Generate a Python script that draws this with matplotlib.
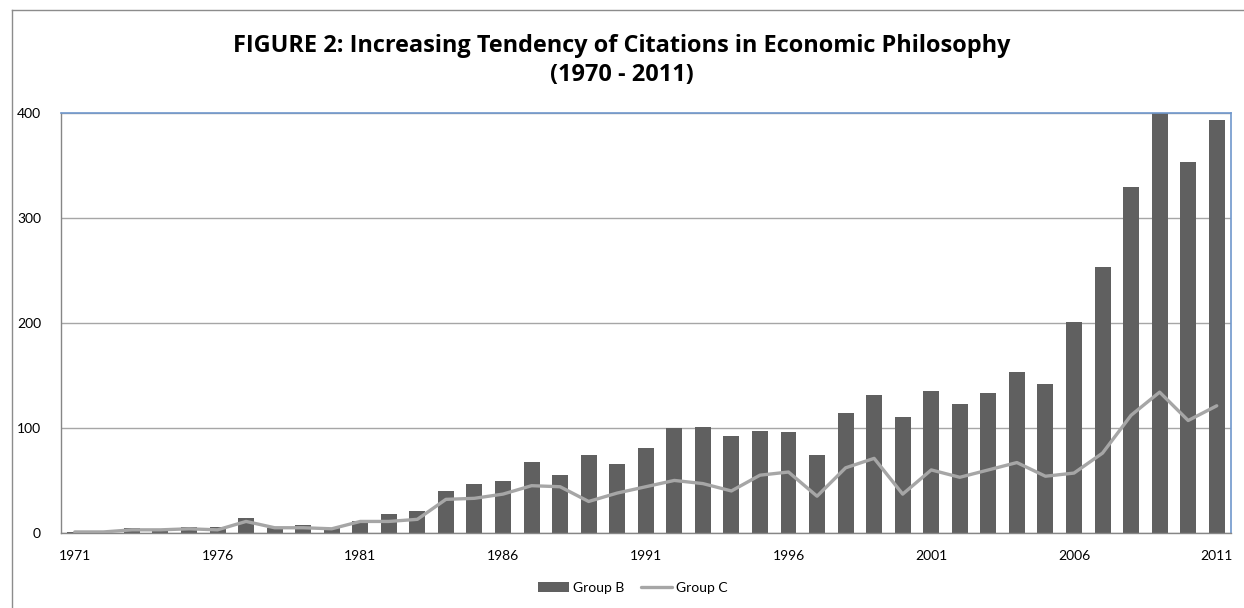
import matplotlib
matplotlib.use("Agg")
import matplotlib.pyplot as plt
from matplotlib.lines import Line2D
import numpy as np

years = list(range(1971, 2012))
group_b = [1, 2, 5, 3, 6, 6, 14, 5, 8, 5, 11, 18, 21, 40, 47, 49, 68, 55, 74, 66,
           81, 100, 101, 92, 97, 96, 74, 114, 131, 110, 135, 123, 133, 153, 142,
           201, 253, 329, 415, 353, 393]
group_c = [1, 1, 3, 3, 4, 3, 11, 5, 5, 4, 11, 11, 13, 32, 33, 37, 45, 44, 30, 38,
           44, 50, 47, 40, 55, 58, 35, 62, 71, 37, 60, 53, 60, 67, 54,
           57, 76, 112, 134, 107, 121]
y_ticks = [0, 100, 200, 300, 400]
title_lines = ["FIGURE 2: Increasing Tendency of Citations in Economic Philosophy",
               "(1970 - 2011)"]

W, H = 1244, 608
fig = plt.figure(figsize=(W / 100, H / 100), dpi=100)
fig.patch.set_facecolor("white")

# chart-area frame (left and top edges)
frame_col = "#8c8c8c"
fig.add_artist(Line2D([11.5 / W, 11.5 / W], [0, 1 - 9.5 / H], transform=fig.transFigure,
                      color=frame_col, lw=1.0))
fig.add_artist(Line2D([11.5 / W, 1], [1 - 9.5 / H, 1 - 9.5 / H], transform=fig.transFigure,
                      color=frame_col, lw=1.0))

left, right, bottom, top = 60.5, 1231, 533, 112.5
ax = fig.add_axes([left / W, (H - bottom) / H, (right - left) / W, (bottom - top) / H])

x = np.arange(len(years))
bars = ax.bar(x, group_b, width=0.56, color="#606060", zorder=2, label="Group B")
line, = ax.plot(x, group_c, color="#a6a6a6", lw=2.4, solid_joinstyle="round",
                solid_capstyle="round", zorder=3, label="Group C")

ax.set_xlim(-0.5, len(years) - 0.5)
ax.set_ylim(0, 400)
ax.set_yticks(y_ticks)
ax.yaxis.grid(True, color="#a6a6a6", lw=1.0, zorder=0)
ax.set_axisbelow(True)

tick_pos = [i for i, yr in enumerate(years) if (yr - 1971) % 5 == 0]
ax.set_xticks(tick_pos)
ax.set_xticklabels([str(years[i]) for i in tick_pos])

font = "Lato"
for lab in ax.get_xticklabels() + ax.get_yticklabels():
    lab.set_fontfamily(font)
    lab.set_fontsize(10)
    lab.set_color("#000000")
ax.tick_params(axis="both", length=0)
ax.tick_params(axis="x", pad=12)
ax.tick_params(axis="y", pad=14)

for side in ("left", "bottom"):
    ax.spines[side].set_color("#868686")
    ax.spines[side].set_linewidth(1.0)
for side in ("top", "right"):
    ax.spines[side].set_color("#6f97cc")
    ax.spines[side].set_linewidth(1.2)

# title: size chosen so the first line spans the intended width
title_font = "Open Sans"
renderer = fig.canvas.get_renderer()
t1 = fig.text(0.5, 1 - 46 / H, title_lines[0], ha="center", va="center",
              fontfamily=title_font, fontweight="bold", fontsize=16)
w = t1.get_window_extent(renderer).width
size = 16 * 778 / w
t1.set_fontsize(size)
fig.text(0.5, 1 - 75 / H, title_lines[1], ha="center", va="center",
         fontfamily=title_font, fontweight="bold", fontsize=size)

fig.legend(handles=[bars, line], labels=["Group B", "Group C"], loc="center",
           bbox_to_anchor=(633 / W, 1 - 588 / H), ncol=2,
           frameon=False, prop={"family": font, "size": 10},
           handlelength=2.2, handletextpad=0.3, columnspacing=1.2)

fig.savefig("out.png", dpi=100, facecolor="white")
